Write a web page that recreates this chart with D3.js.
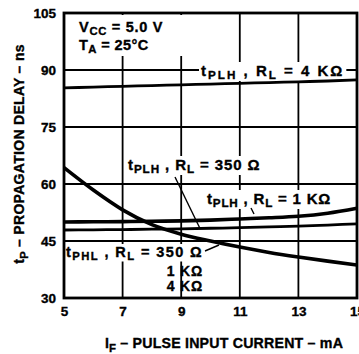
<!DOCTYPE html>
<html>
<head>
<meta charset="utf-8">
<script src="https://cdn.jsdelivr.net/npm/d3@7"></script>
<style>
  html, body { margin: 0; padding: 0; background: #fff; }
  svg text { font-family: "Liberation Sans", Arial, Helvetica, sans-serif; font-weight: bold; fill: #000;
             stroke: #000; stroke-width: 0.35px; }
</style>
</head>
<body>
<svg id="chart" width="359" height="354"></svg>
<script>
// Forward current (mA)
const current = [5, 6, 7, 8, 9, 10, 11, 12, 13, 14, 15];
// Propagation delay (ns) for each curve
const tplh4k   = [85.3, 85.5, 85.7, 85.9, 86.1, 86.3, 86.5, 86.7, 86.9, 87.1, 87.4];
const tplh1k   = [50.0, 50.05, 50.1, 50.2, 50.3, 50.5, 50.8, 51.1, 51.5, 52.3, 53.6];
const tplh350  = [47.9, 47.95, 48.0, 48.1, 48.2, 48.35, 48.5, 48.7, 48.9, 49.2, 49.5];
const tphl     = [64.3, 58.4, 53.2, 49.3, 46.8, 45.0, 43.4, 42.0, 40.8, 39.7, 38.7];
// Axis ticks
const xTicks = [5, 7, 9, 11, 13, 15];
const yTicks = [30, 45, 60, 75, 90, 105];

const svg = d3.select("#chart");
const x = d3.scaleLinear().domain([5, 15]).range([64, 357]);
const y = d3.scaleLinear().domain([30, 105]).range([298, 13]);

// grid lines
const grid = svg.append("g").attr("stroke", "#000").attr("stroke-width", 1.8);
grid.selectAll(".vg").data(xTicks.slice(1, -1)).join("line")
  .attr("x1", d => x(d)).attr("x2", d => x(d)).attr("y1", y(105)).attr("y2", y(30));
grid.selectAll(".hg").data(yTicks.slice(1, -1)).join("line")
  .attr("x1", x(5)).attr("x2", x(15)).attr("y1", d => y(d)).attr("y2", d => y(d));

// white backing behind labels, so they break the grid
const bg = svg.append("g").attr("fill", "#fff");
const curveLayer = svg.append("g");
const frameLayer = svg.append("g");
const textLayer = svg.append("g");

// axes (labels only)
const xAxis = textLayer.append("g").attr("transform", `translate(0,${y(30)})`)
  .call(d3.axisBottom(x).tickValues(xTicks).tickSize(0).tickPadding(8).tickFormat(d3.format("d")));
const yAxis = textLayer.append("g").attr("transform", `translate(${x(5)},0)`)
  .call(d3.axisLeft(y).tickValues(yTicks).tickSize(0).tickPadding(8).tickFormat(d3.format("d")));
[xAxis, yAxis].forEach(a => {
  a.select(".domain").remove();
  a.selectAll("text").attr("font-size", 13.5).attr("font-family", null).style("font-weight", "bold");
});

// curves
const line = d3.line().x((d, i) => x(current[i])).y(d => y(d)).curve(d3.curveMonotoneX);
const curves = [
  { v: tplh4k, w: 2.8 },
  { v: tplh1k, w: 3.6 },
  { v: tplh350, w: 2.8 },
  { v: tphl, w: 3.6 }
];
curveLayer.selectAll("path").data(curves).join("path")
  .attr("d", d => line(d.v)).attr("fill", "none").attr("stroke", "#000")
  .attr("stroke-width", d => d.w);

// frame
frameLayer.append("rect").attr("x", x(5)).attr("y", y(105))
  .attr("width", x(15) - x(5)).attr("height", y(30) - y(105))
  .attr("fill", "none").attr("stroke", "#000").attr("stroke-width", 2.8);

// text with subscripts: parts = [[text, isSub], ...]
function rich(xp, yp, parts, size, opts) {
  opts = opts || {};
  const drop = opts.drop || 3;
  const t = textLayer.append("text").attr("x", xp).attr("y", yp).attr("font-size", size)
    .attr("text-anchor", opts.anchor || "start")
    .attr("letter-spacing", opts.ls || 0);
  let sub = false;
  parts.forEach(([s, isSub]) => {
    const ts = t.append("tspan").text(s);
    if (isSub && !sub) ts.attr("dy", drop).attr("font-size", size * 0.78);
    else if (!isSub && sub) ts.attr("dy", -drop);
    else if (isSub) ts.attr("font-size", size * 0.78);
    sub = isSub;
  });
  if (opts.box) {
    const b = t.node().getBBox();
    bg.append("rect").attr("x", b.x - opts.box[0]).attr("y", b.y - opts.box[1])
      .attr("width", b.width + 2 * opts.box[0]).attr("height", b.height + 2 * opts.box[1]);
  }
  return t;
}

rich(79, 32, [["V", 0], ["CC", 1], [" = 5.0 V", 0]], 14.5, { ls: 0.7, drop: 2.5 });
rich(79, 50, [["T", 0], ["A", 1], [" = 25°C", 0]], 14.5, { ls: 0.4, drop: 2.5 });
bg.append("rect").attr("x", 66).attr("y", 15).attr("width", 122).attr("height", 41);

rich(201, 76, [["t", 0], ["PLH", 1], [" , R", 0], ["L", 1], [" = 4 KΩ", 0]], 15, { ls: 2.0, box: [2, 0] });
rich(128, 170, [["t", 0], ["PLH", 1], [" , R", 0], ["L", 1], [" = 350 Ω", 0]], 15, { ls: 0.9, box: [2, 0] });
rich(207, 204, [["t", 0], ["PLH", 1], [" , R", 0], ["L", 1], [" = 1 KΩ", 0]], 15, { ls: 0.8, box: [2, 0] });
rich(66, 257, [["t", 0], ["PHL", 1], [" , R", 0], ["L", 1], [" = 350 Ω", 0]], 14.5, { ls: 1.4, box: [1, 0], drop: 2.5 });
rich(203, 276, [["1 KΩ", 0]], 14, { anchor: "end", ls: 0.8 });
rich(203, 291, [["4 KΩ", 0]], 14, { anchor: "end", ls: 0.8 });

// leader lines
const lead = textLayer.append("g").attr("stroke", "#000").attr("stroke-width", 1.4).attr("fill", "none");
lead.append("line").attr("x1", 175).attr("y1", 177).attr("x2", 200).attr("y2", y(48.3));
lead.append("line").attr("x1", 251).attr("y1", 208).attr("x2", 254).attr("y2", 214);
lead.append("line").attr("x1", 205).attr("y1", 251).attr("x2", 219).attr("y2", 245);

// axis titles
const yt = textLayer.append("text").attr("transform", `translate(24,154) rotate(-90)`)
  .attr("font-size", 14).attr("text-anchor", "middle").attr("letter-spacing", 0.3);
yt.append("tspan").text("t");
yt.append("tspan").text("P").attr("dy", 3.5).attr("font-size", 11.2);
yt.append("tspan").text(" – PROPAGATION DELAY – ns").attr("dy", -3.5);

const xt = textLayer.append("text").attr("x", 224).attr("y", 348).attr("font-size", 14.2)
  .attr("text-anchor", "middle").attr("letter-spacing", 0.2);
xt.append("tspan").text("I");
xt.append("tspan").text("F").attr("dy", 3.5).attr("font-size", 11.4);
xt.append("tspan").text(" – PULSE INPUT CURRENT – mA").attr("dy", -3.5);
</script>
</body>
</html>
